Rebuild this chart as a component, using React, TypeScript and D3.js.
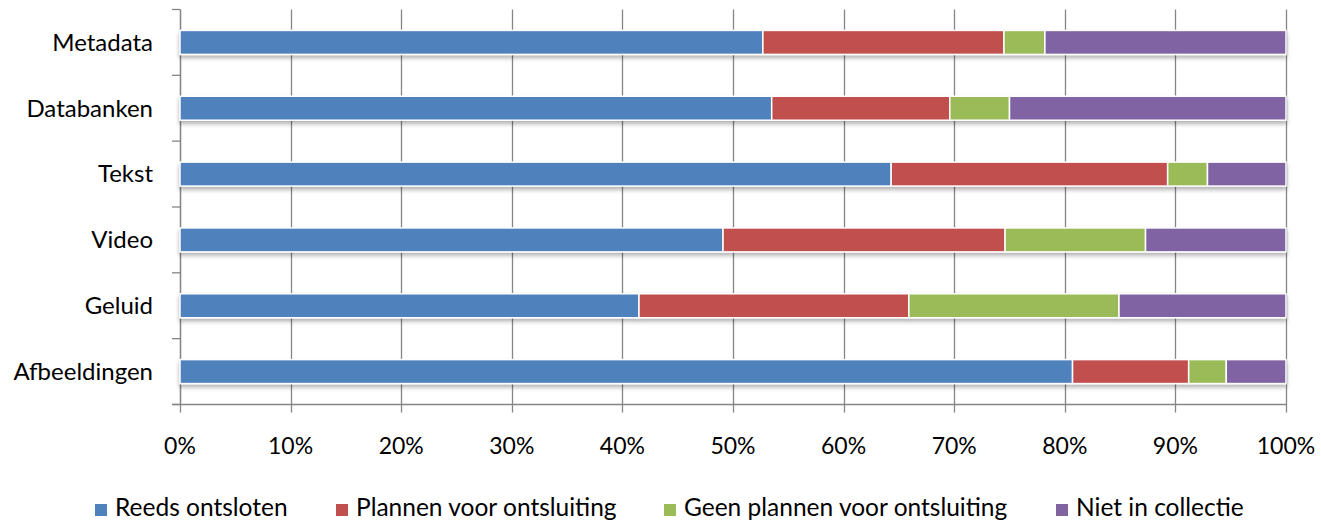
import * as d3 from "d3";
import React from "react";

const categories = ["Metadata", "Databanken", "Tekst", "Video", "Geluid", "Afbeeldingen"];
const seriesNames = [
  "Reeds ontsloten",
  "Plannen voor ontsluiting",
  "Geen plannen voor ontsluiting",
  "Niet in collectie",
];
const reeds = [52.7, 53.5, 64.3, 49.1, 41.5, 80.7];
const plannen = [21.8, 16.1, 25.0, 25.5, 24.4, 10.5];
const geenPlannen = [3.7, 5.4, 3.6, 12.7, 19.0, 3.4];
const nietInCollectie = [21.8, 25.0, 7.1, 12.7, 15.1, 5.4];
const xTicks = [0, 10, 20, 30, 40, 50, 60, 70, 80, 90, 100];

const colors = ["#4F81BD", "#C0504D", "#9BBB59", "#8064A2"];
const legendX = [95, 336, 664, 1056];

export default function App() {
  const ref = React.useRef<SVGSVGElement>(null);

  React.useEffect(() => {
    if (!ref.current) return;
    const svg = d3.select(ref.current);
    svg.selectAll("*").remove();

    const font = "Lato, 'Open Sans', sans-serif";
    const left = 180;
    const right = 1286;
    const top = 9.5;
    const bottom = 404.5;

    const x = d3.scaleLinear().domain([0, 100]).range([left, right]);
    const y = d3.scaleBand<string>().domain(categories).range([top, bottom]).padding(0);
    const bh = y.bandwidth() * 0.364;

    const rows = categories.map((c, i) => ({
      cat: c,
      vals: [reeds[i], plannen[i], geenPlannen[i], nietInCollectie[i]],
    }));
    const stack = d3
      .stack<any>()
      .keys(["0", "1", "2", "3"])
      .value((d, k) => d.vals[+k]);
    const stacked = stack(rows);

    const defs = svg.append("defs");
    const f = defs
      .append("filter")
      .attr("id", "shadow")
      .attr("x", "-5%")
      .attr("y", "-20%")
      .attr("width", "110%")
      .attr("height", "160%");
    f.append("feDropShadow")
      .attr("dx", 0)
      .attr("dy", 3)
      .attr("stdDeviation", 2)
      .attr("flood-color", "#000")
      .attr("flood-opacity", 0.3);

    // gridlines
    svg
      .append("g")
      .selectAll("line")
      .data(xTicks)
      .enter()
      .append("line")
      .attr("x1", (d) => Math.round(x(d)) + 0.5)
      .attr("x2", (d) => Math.round(x(d)) + 0.5)
      .attr("y1", top)
      .attr("y2", bottom + 8)
      .attr("stroke", "#868686")
      .attr("stroke-width", 1.3);

    // y axis line + ticks
    const yEdges = categories.map((c) => y(c)!).concat([bottom]);
    svg
      .append("line")
      .attr("x1", left + 0.5)
      .attr("x2", left + 0.5)
      .attr("y1", top)
      .attr("y2", bottom)
      .attr("stroke", "#868686")
      .attr("stroke-width", 1.3);
    svg
      .append("g")
      .selectAll("line")
      .data(yEdges)
      .enter()
      .append("line")
      .attr("x1", left - 8)
      .attr("x2", left)
      .attr("y1", (d) => d)
      .attr("y2", (d) => d)
      .attr("stroke", "#868686")
      .attr("stroke-width", 1.3);

    // x axis line
    svg
      .append("line")
      .attr("x1", left - 8)
      .attr("x2", right + 0.5)
      .attr("y1", bottom)
      .attr("y2", bottom)
      .attr("stroke", "#868686")
      .attr("stroke-width", 1.3);

    // bars
    const gBars = svg.append("g").attr("filter", "url(#shadow)");
    stacked.forEach((s, si) => {
      gBars
        .append("g")
        .selectAll("rect")
        .data(s)
        .enter()
        .append("rect")
        .attr("x", (d) => x(d[0]))
        .attr("width", (d) => x(d[1]) - x(d[0]))
        .attr("y", (d) => y(d.data.cat)! + (y.bandwidth() - bh) / 2)
        .attr("height", bh)
        .attr("fill", colors[si])
        .attr("stroke", "#fff")
        .attr("stroke-width", 1.5);
    });

    // category labels
    svg
      .append("g")
      .selectAll("text")
      .data(categories)
      .enter()
      .append("text")
      .attr("x", left - 27)
      .attr("y", (d) => y(d)! + y.bandwidth() / 2)
      .attr("dy", "0.35em")
      .attr("text-anchor", "end")
      .attr("font-family", font)
      .attr("font-size", 24)
      .attr("fill", "#000")
      .text((d) => d);

    // x tick labels
    svg
      .append("g")
      .selectAll("text")
      .data(xTicks)
      .enter()
      .append("text")
      .attr("x", (d) => x(d))
      .attr("y", 454)
      .attr("text-anchor", "middle")
      .attr("font-family", font)
      .attr("font-size", 23)
      .attr("fill", "#000")
      .text((d) => `${d}%`);

    // legend
    const lg = svg
      .append("g")
      .selectAll("g")
      .data(seriesNames)
      .enter()
      .append("g")
      .attr("transform", (d, i) => `translate(${legendX[i]},516)`);
    lg.append("rect")
      .attr("x", 0)
      .attr("y", -12)
      .attr("width", 12)
      .attr("height", 12)
      .attr("fill", (d, i) => colors[i]);
    lg.append("text")
      .attr("x", 20)
      .attr("y", 0)
      .attr("font-family", font)
      .attr("font-size", 24.5)
      .attr("fill", "#000")
      .text((d) => d);
  }, []);

  return (
    <svg
      ref={ref}
      width={1321}
      height={529}
      style={{ position: "absolute", left: 0, top: 0, background: "#fff" }}
    />
  );
}
